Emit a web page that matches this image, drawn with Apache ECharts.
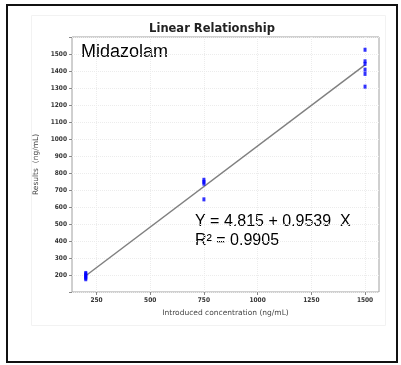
<!DOCTYPE html>
<html>
<head>
<meta charset="utf-8">
<script src="https://cdn.jsdelivr.net/npm/echarts@6/dist/echarts.min.js"></script>
<style>html,body{margin:0;padding:0;background:#fff}#c{width:401px;height:365px}</style>
</head>
<body>
<div id="c"></div>
<script>
var chartTitle = 'Linear Relationship';
var drugName = 'Midazolam';
var xLabel = 'Introduced concentration (ng/mL)';
var yLabel = 'Results  (ng/mL)';
var xTicks = [250, 500, 750, 1000, 1250, 1500];
var yTicks = [200, 300, 400, 500, 600, 700, 800, 900, 1000, 1100, 1200, 1300, 1400, 1500];
var lowX = [200, 200, 200, 200, 200, 200];
var lowY = [175, 183, 190, 198, 205, 212];
var midX = [750, 750, 750, 750];
var midY = [760, 748, 737, 645];
var highX = [1500, 1500, 1500, 1500, 1500, 1500];
var highY = [1525, 1457, 1442, 1408, 1383, 1308];
var intercept = 4.815;
var slope = 0.9539;
var lineX = [200, 1500];
var eqText = 'Y = 4.815 + 0.9539  X';
var r2Text = 'R\u00B2 = 0.9905';

var pts = [];
[[lowX, lowY], [midX, midY], [highX, highY]].forEach(function (g) {
  g[0].forEach(function (x, i) { pts.push([x, g[1][i]]); });
});
var fitPts = lineX.map(function (x) { return [x, intercept + slope * x]; });

var axisFont = { fontFamily: 'DejaVu Sans Condensed, DejaVu Sans', fontSize: 6.5, color: '#333', fontWeight: 'bold' };
var chart = echarts.init(document.getElementById('c'), null, { renderer: 'canvas' });
chart.setOption({
  animation: false,
  backgroundColor: '#fff',
  title: {
    text: chartTitle, left: 207, top: 18, textAlign: 'center',
    textStyle: { fontFamily: 'DejaVu Sans', fontWeight: 'bold', fontSize: 11.5, color: '#222' }
  },
  grid: { left: 72, top: 37, right: 22, bottom: 73, show: true, borderColor: '#a0a0a0', borderWidth: 1, backgroundColor: 'transparent' },
  xAxis: {
    type: 'value', min: 136, max: 1565,
    name: xLabel, nameLocation: 'middle', nameGap: 14,
    nameTextStyle: { fontFamily: 'DejaVu Sans', fontSize: 7.5, color: '#444' },
    axisLine: { show: false },
    axisTick: { show: true, length: 3, lineStyle: { color: '#888' }, customValues: xTicks },
    axisLabel: Object.assign({ margin: 5, customValues: xTicks, formatter: function (v) { return String(v); } }, axisFont),
    splitLine: { show: true, lineStyle: { color: '#ececec', type: 'dotted', width: 1 } }
  },
  yAxis: {
    type: 'value', min: 100, max: 1600, interval: 100,
    name: yLabel, nameLocation: 'middle', nameGap: 26, nameRotate: 90,
    nameTextStyle: { fontFamily: 'DejaVu Sans', fontSize: 7.5, color: '#444' },
    axisLine: { show: false },
    axisTick: { show: true, length: 3, lineStyle: { color: '#888' } },
    axisLabel: Object.assign({ margin: 5, formatter: function (v) { return yTicks.indexOf(v) >= 0 ? String(v) : ''; } }, axisFont),
    splitLine: { show: true, lineStyle: { color: '#ececec', type: 'dotted', width: 1 } }
  },
  series: [
    {
      type: 'line', data: fitPts, symbol: 'none', silent: true,
      lineStyle: { color: '#808080', width: 1.5 }, z: 2
    },
    {
      type: 'scatter', data: pts, symbol: 'rect', symbolSize: [3, 4],
      itemStyle: { color: '#0000ff' }, z: 3
    }
  ],
  graphic: [
    { type: 'rect', shape: { x: 7, y: 5, width: 390, height: 357 }, style: { fill: 'none', stroke: '#111', lineWidth: 2 }, z: -1 },
    { type: 'rect', shape: { x: 31.5, y: 15.5, width: 354, height: 310 }, style: { fill: 'none', stroke: '#f2f2f2', lineWidth: 1 }, z: -2 },
    { type: 'text', left: 81, top: 43, style: { text: drugName, font: '18px "Liberation Sans"', fill: '#000' } },
    { type: 'text', left: 195, top: 214, style: { text: eqText, font: '16px "Liberation Sans"', fill: '#000' } },
    { type: 'text', left: 195, top: 233, style: { text: r2Text, font: '16px "Liberation Sans"', fill: '#000' } }
  ]
});
</script>
</body>
</html>
